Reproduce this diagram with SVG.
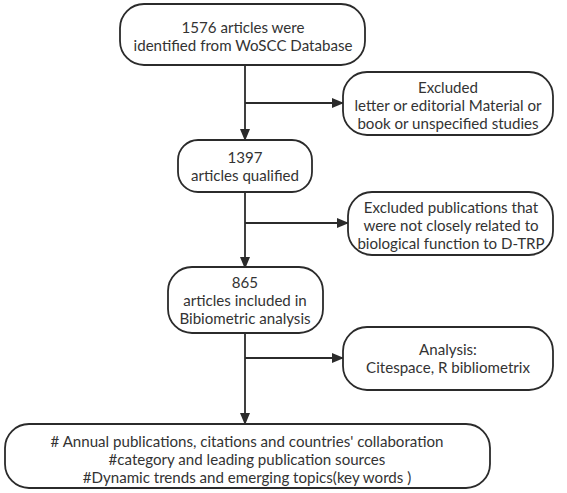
<svg xmlns="http://www.w3.org/2000/svg" width="567" height="493" viewBox="0 0 567 493">
<style>
.box{fill:#fff;stroke:#2b2b2b;stroke-width:1.8}
.t{font-family:Lato,"Open Sans",sans-serif;font-size:15.1px;fill:#333;text-anchor:middle}
.ln{stroke:#2b2b2b;stroke-width:1.8;fill:none}
</style>
<defs>
<marker id="ah" markerWidth="12" markerHeight="10" refX="11" refY="5" orient="auto" markerUnits="userSpaceOnUse">
<path d="M0,0 L12,5 L0,10 Z" fill="#2b2b2b"/>
</marker>
</defs>
<rect width="567" height="493" fill="#fff"/>
<g id="connectors">
<path class="ln" d="M245,65 V140" marker-end="url(#ah)"/>
<path class="ln" d="M245,103 H343" marker-end="url(#ah)"/>
<path class="ln" d="M245,192 V268" marker-end="url(#ah)"/>
<path class="ln" d="M245,223 H348" marker-end="url(#ah)"/>
<path class="ln" d="M245,333 V424" marker-end="url(#ah)"/>
<path class="ln" d="M245,358 H343" marker-end="url(#ah)"/>
</g>
<g id="n1">
<rect class="box" x="120" y="4" width="245" height="61" rx="24"/>
<text class="t" x="243" y="33">1576 articles were</text>
<text class="t" x="243" y="51">identified from WoSCC Database</text>
</g>
<g id="n2">
<rect class="box" x="343" y="72" width="210" height="63" rx="24"/>
<text class="t" x="448" y="93">Excluded</text>
<text class="t" x="448" y="111">letter or editorial Material or</text>
<text class="t" x="448" y="129">book or unspecified studies</text>
</g>
<g id="n3">
<rect class="box" x="178" y="140" width="134" height="52" rx="20"/>
<text class="t" x="245" y="163">1397</text>
<text class="t" x="245" y="181">articles qualified</text>
</g>
<g id="n4">
<rect class="box" x="348" y="192" width="205" height="63" rx="24"/>
<text class="t" x="451" y="213">Excluded publications that</text>
<text class="t" x="451" y="231">were not closely related to</text>
<text class="t" x="451" y="249">biological function to D-TRP</text>
</g>
<g id="n5">
<rect class="box" x="168" y="267" width="155" height="66" rx="24"/>
<text class="t" x="245" y="288">865</text>
<text class="t" x="245" y="306">articles included in</text>
<text class="t" x="245" y="324">Bibiometric analysis</text>
</g>
<g id="n6">
<rect class="box" x="343" y="327" width="210" height="63" rx="24"/>
<text class="t" x="448" y="355">Analysis:</text>
<text class="t" x="448" y="373">Citespace, R bibliometrix</text>
</g>
<g id="n7">
<rect class="box" x="5" y="424" width="485" height="64" rx="24"/>
<text class="t" x="247" y="447"># Annual publications, citations and countries' collaboration</text>
<text class="t" x="247" y="465">#category and leading publication sources</text>
<text class="t" x="247" y="483">#Dynamic trends and emerging topics(key words )</text>
</g>
</svg>
